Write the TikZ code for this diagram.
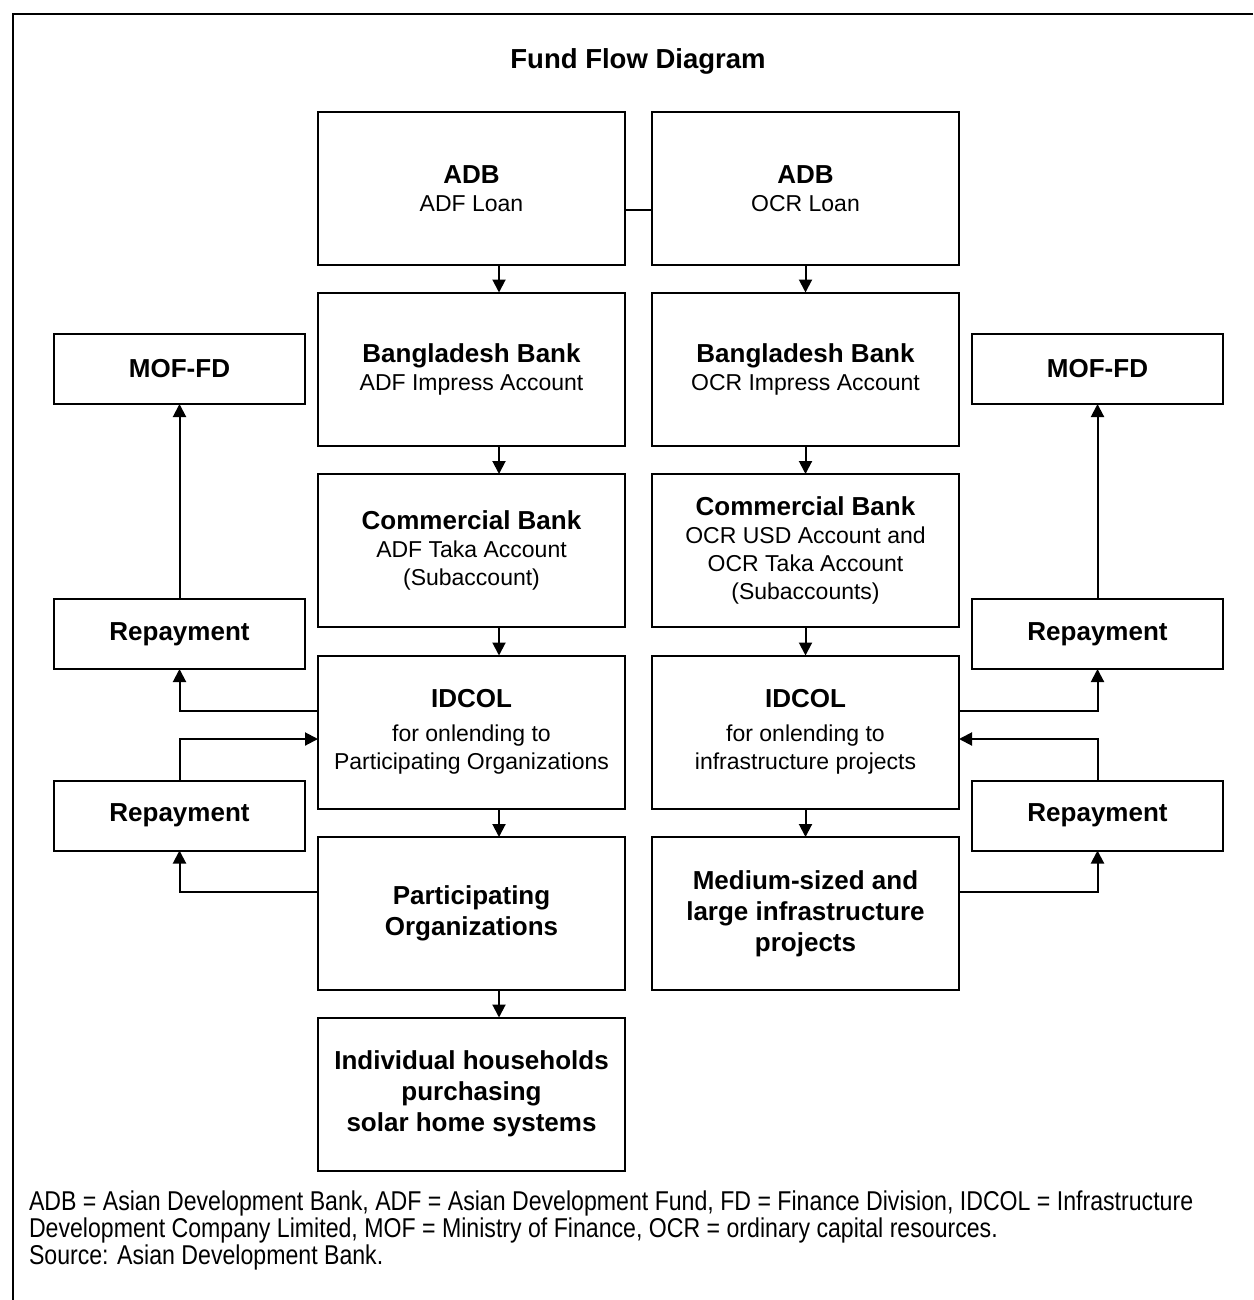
\documentclass[tikz,border=0pt]{standalone}
\usepackage{fontspec}
\setmainfont{Liberation Sans}
\newfontfamily\notefont[FakeStretch=0.85]{Liberation Sans}
\usetikzlibrary{arrows.meta}

\tikzset{every picture/.style={line width=1pt}}
\tikzset{
  colbox/.style={draw, inner sep=0pt, outer sep=0pt, minimum width=153.5pt, minimum height=76.5pt, align=center, font=\fontsize{11.5}{14}\selectfont},
  boldbox/.style={colbox, font=\fontsize{13}{15.5}\selectfont\bfseries},
  sidebox/.style={draw, inner sep=0pt, outer sep=0pt, minimum width=125.5pt, minimum height=35pt, align=center, font=\fontsize{13}{15.5}\selectfont\bfseries},
  flow/.style={-{Triangle[length=6.5pt,width=6.5pt]}},
  note/.style={anchor=base west, inner sep=0pt, font=\fontsize{13.6}{13.5}\notefont}
}
\newcommand{\hd}[1]{{\fontsize{13}{15.5}\selectfont\bfseries #1}}

\begin{document}
\begin{tikzpicture}[x=0.5pt,y=0.5pt,yscale=-1]
	\useasboundingbox (0,0) rectangle (1253,1300);
	%Frame
	\draw (1253,14) -- (13,14) -- (13,1300);
	
	% Text Node
	\node[font=\fontsize{13.75}{16}\selectfont\bfseries] (title) at (638,61) {Fund Flow Diagram};
	
	%Shape: Rectangle (ADF column)
	\node[colbox] (adbadf) at (471.5,188.5) {\hd{ADB}\\ADF Loan};
	\node[colbox] (bbadf) at (471.5,369) {\hd{Bangladesh Bank}\\ADF Impress Account};
	\node[colbox] (cbadf) at (471.5,550.5) {\hd{Commercial Bank}\\ADF Taka Account\\(Subaccount)};
	\node[colbox] (idcoladf) at (471.5,732) {\hd{IDCOL}\\[3pt]for onlending to\\Participating Organizations};
	\node[boldbox] (poadf) at (471.5,913.5) {Participating\\Organizations};
	\node[boldbox] (homes) at (471.5,1094) {Individual households\\purchasing\\solar home systems};
	
	%Shape: Rectangle (OCR column)
	\node[colbox] (adbocr) at (805.5,188.5) {\hd{ADB}\\OCR Loan};
	\node[colbox] (bbocr) at (805.5,369) {\hd{Bangladesh Bank}\\OCR Impress Account};
	\node[colbox] (cbocr) at (805.5,550.5) {\hd{Commercial Bank}\\OCR USD Account and\\OCR Taka Account\\(Subaccounts)};
	\node[colbox] (idcolocr) at (805.5,732) {\hd{IDCOL}\\[3pt]for onlending to\\infrastructure projects};
	\node[boldbox] (infraocr) at (805.5,913.5) {Medium-sized and\\large infrastructure\\projects};
	
	%Shape: Rectangle (side boxes)
	\node[sidebox] (mofL) at (179.5,369) {MOF-FD};
	\node[sidebox] (repL1) at (179.5,634) {Repayment};
	\node[sidebox] (repL2) at (179.5,815.5) {Repayment};
	\node[sidebox] (mofR) at (1097.5,369) {MOF-FD};
	\node[sidebox] (repR1) at (1097.5,634) {Repayment};
	\node[sidebox] (repR2) at (1097.5,815.5) {Repayment};
	
	\coordinate (ladf) at (499,0);
	\coordinate (locr) at (805.5,0);
	
	%Straight Lines
	\draw ([yshift=10.75pt]adbadf.east) -- ([yshift=10.75pt]adbocr.west);
	\draw[flow] (adbadf.south -| ladf) -- (bbadf.north -| ladf);
	\draw[flow] (bbadf.south -| ladf) -- (cbadf.north -| ladf);
	\draw[flow] (cbadf.south -| ladf) -- (idcoladf.north -| ladf);
	\draw[flow] (idcoladf.south -| ladf) -- (poadf.north -| ladf);
	\draw[flow] (poadf.south -| ladf) -- (homes.north -| ladf);
	\draw[flow] (adbocr.south -| locr) -- (bbocr.north -| locr);
	\draw[flow] (bbocr.south -| locr) -- (cbocr.north -| locr);
	\draw[flow] (cbocr.south -| locr) -- (idcolocr.north -| locr);
	\draw[flow] (idcolocr.south -| locr) -- (infraocr.north -| locr);
	
	%Straight Lines (repayment loops)
	\draw[flow] (repL1.north) -- (mofL.south);
	\draw[flow] ([yshift=-10.5pt]idcoladf.west) -| (repL1.south);
	\draw[flow] (repL2.north) |- ([yshift=3.5pt]idcoladf.west);
	\draw[flow] ([yshift=-10.75pt]poadf.west) -| (repL2.south);
	\draw[flow] (repR1.north) -- (mofR.south);
	\draw[flow] ([yshift=-10.5pt]idcolocr.east) -| (repR1.south);
	\draw[flow] (repR2.north) |- ([yshift=3.5pt]idcolocr.east);
	\draw[flow] ([yshift=-10.75pt]infraocr.east) -| (repR2.south);
	
	% Text Node
	\node[note] (note1) at (28,1210) {ADB = Asian Development Bank, ADF = Asian Development Fund, FD = Finance Division, IDCOL = Infrastructure};
	\node[note] (note2) at (28,1237) {Development Company Limited, MOF = Ministry of Finance, OCR = ordinary capital resources.};
	\node[note] (note3) at (28,1264) {Source: Asian Development Bank.};
	
\end{tikzpicture}
\end{document}
